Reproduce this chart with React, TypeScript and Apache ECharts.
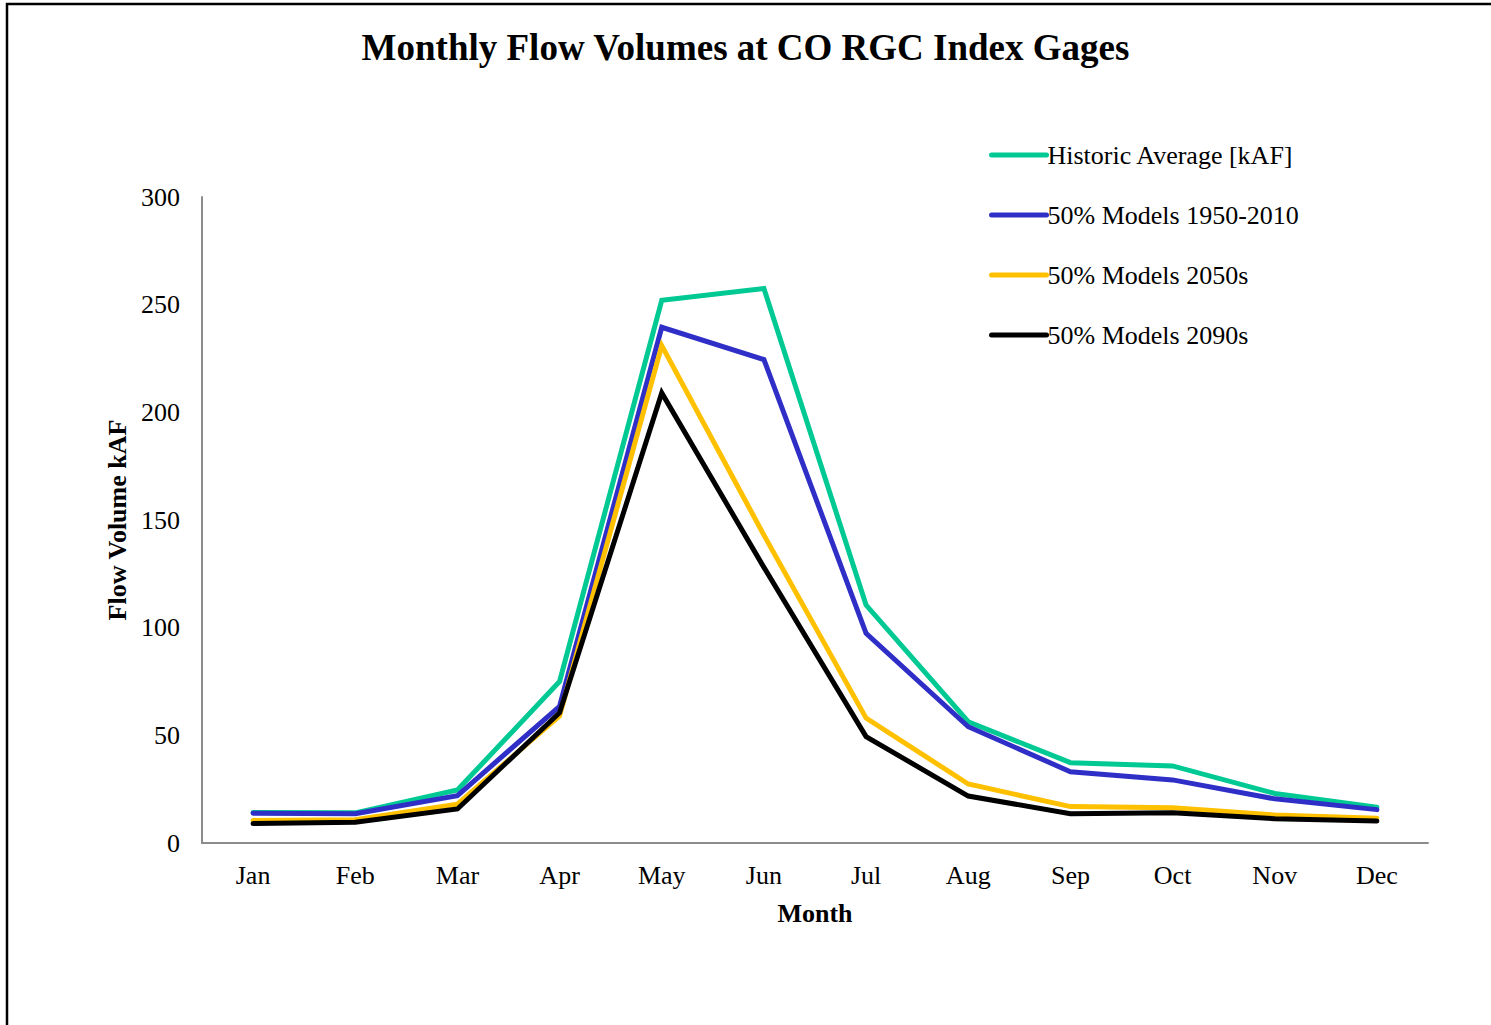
import React, { useEffect, useRef } from "react";
import * as echarts from "echarts";

const months = ["Jan", "Feb", "Mar", "Apr", "May", "Jun", "Jul", "Aug", "Sep", "Oct", "Nov", "Dec"];
const historicAvg = [14.2, 14, 24.6, 75, 252, 257.5, 110.5, 56.3, 37.3, 35.8, 23, 16.6];
const models1950_2010 = [13.8, 13.6, 22, 63.5, 239.5, 224.5, 97.4, 54, 33.1, 29.3, 20.5, 15.5];
const models2050s = [10.5, 10.8, 18, 59, 231, 143, 58, 27.4, 16.9, 16.4, 13, 11.5];
const models2090s = [9, 9.6, 15.8, 60.5, 209, 128, 49.4, 21.8, 13.6, 14, 11.3, 10.2];
const yTicks = { min: 0, max: 300, interval: 50 };

const FONT = "'Liberation Serif', 'Times New Roman', serif";

export default function App() {
  const ref = useRef<HTMLDivElement>(null);

  useEffect(() => {
    document.body.style.margin = "0";
    if (!ref.current) return;
    const chart = echarts.init(ref.current, undefined, { renderer: "svg" });

    const mk = (name: string, data: number[], color: string) => ({
      name,
      type: "line",
      data,
      symbol: "none",
      lineStyle: { color, width: 5, cap: "round", join: "miter" },
      itemStyle: { color },
    });

    chart.setOption({
      animation: false,
      backgroundColor: "#ffffff",
      textStyle: { fontFamily: FONT },
      title: {
        text: "Monthly Flow Volumes at CO RGC Index Gages",
        left: "center",
        top: 24,
        textStyle: { fontFamily: FONT, fontSize: 37, fontWeight: "bold", color: "#000" },
      },
      graphic: [
        {
          type: "rect",
          shape: { x: 7, y: 4, width: 1700, height: 1200 },
          style: { fill: "none", stroke: "#000", lineWidth: 2.5 },
          silent: true,
        },
      ],
      legend: {
        orient: "vertical",
        left: 984,
        top: 137,
        itemWidth: 55,
        itemHeight: 24,
        itemGap: 34,
        itemStyle: { opacity: 0 },
        lineStyle: { width: 5, cap: "round" },
        textStyle: { fontFamily: FONT, fontSize: 26, lineHeight: 24, color: "#000", padding: [0, 0, 0, -4] },
        data: [
          "Historic Average [kAF]",
          "50% Models 1950-2010",
          "50% Models 2050s",
          "50% Models 2090s",
        ],
      },
      grid: { left: 202, right: 63, top: 197, bottom: 182 },
      xAxis: {
        type: "category",
        data: months,
        boundaryGap: true,
        name: "Month",
        nameLocation: "middle",
        nameGap: 57,
        nameTextStyle: { fontFamily: FONT, fontSize: 26, fontWeight: "bold", color: "#000" },
        axisLine: { lineStyle: { color: "#8c8c8c", width: 2 } },
        axisTick: { show: false },
        axisLabel: { fontFamily: FONT, fontSize: 26, color: "#000", margin: 19 },
      },
      yAxis: {
        type: "value",
        min: yTicks.min,
        max: yTicks.max,
        interval: yTicks.interval,
        name: "Flow Volume kAF",
        nameLocation: "middle",
        nameGap: 72,
        nameRotate: 90,
        nameTextStyle: { fontFamily: FONT, fontSize: 26, fontWeight: "bold", color: "#000" },
        axisLine: { show: true, lineStyle: { color: "#8c8c8c", width: 2 } },
        axisTick: { show: false },
        splitLine: { show: false },
        axisLabel: { fontFamily: FONT, fontSize: 26, color: "#000", margin: 22 },
      },
      series: [
        mk("Historic Average [kAF]", historicAvg, "#00C994"),
        mk("50% Models 1950-2010", models1950_2010, "#2F2FC8"),
        mk("50% Models 2050s", models2050s, "#FFC000"),
        mk("50% Models 2090s", models2090s, "#000000"),
      ],
    });

    return () => chart.dispose();
  }, []);

  return <div ref={ref} style={{ width: 1491, height: 1025 }} />;
}
